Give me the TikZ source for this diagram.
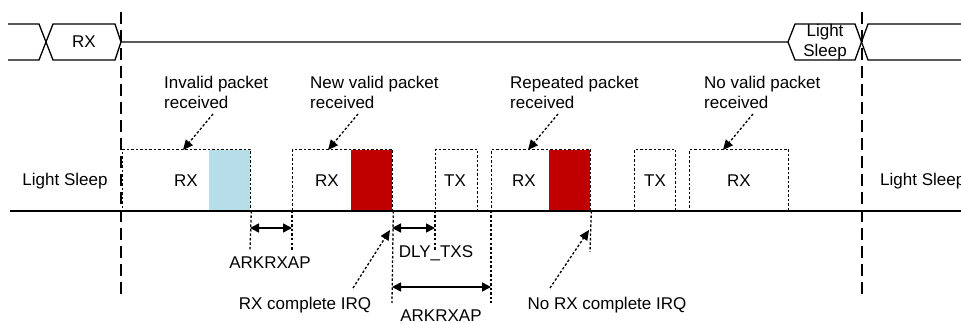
\documentclass[tikz,border=0pt]{standalone}
\usepackage{fontspec}
\setmainfont{Liberation Sans}
\usetikzlibrary{arrows.meta}
\definecolor{crcred}{HTML}{C00000}
\definecolor{crcblue}{HTML}{B7DDE8}
\begin{document}
\begin{tikzpicture}[x=1pt,y=-1pt,
  bus/.style={line width=1.3pt, line join=miter},
  baseline/.style={line width=1.7pt},
  dotline/.style={line width=1.3pt, dash pattern=on 2.5pt off 2pt},
  marker/.style={line width=1.4pt, dash pattern=on 12pt off 6pt},
  pktbox/.style={draw, dotline, inner sep=0pt, anchor=south west},
  pointer/.style={dotline, -{Triangle[length=10pt,width=9pt]}},
  span/.style={line width=1.6pt, {Triangle[length=9pt,width=9pt]}-{Triangle[length=9pt,width=9pt]}},
  txt/.style={font=\fontsize{17}{20}\selectfont, inner sep=0pt},
  lbl/.style={txt, align=left, anchor=north west}]
\useasboundingbox (0,0) rectangle (961,323);

% state bus at the top
\coordinate (l0) at (8,24);   \coordinate (l1) at (39,24);
\coordinate (l2) at (8,60);   \coordinate (l3) at (39,60);
\coordinate (h1) at (53,24);  \coordinate (h2) at (115,24);
\coordinate (h3) at (53,60);  \coordinate (h4) at (115,60);
\coordinate (h5) at (121,42);
\coordinate (s0) at (788,42);
\coordinate (s1) at (795,24); \coordinate (s2) at (855,24);
\coordinate (s3) at (795,60); \coordinate (s4) at (855,60);
\coordinate (r1) at (868,24); \coordinate (r2) at (961,24);
\coordinate (r3) at (868,60); \coordinate (r4) at (961,60);
\draw[bus] (l0) -- (l1) -- (h3) -- (h4) -- (h5) -- (h2) -- (h1) -- (l3) -- (l2);
\draw[bus] (h5) -- (s0) -- (s1) -- (s2) -- (r3) -- (r4);
\draw[bus] (s0) -- (s3) -- (s4) -- (r1) -- (r2);
\node[txt] (stRX) at (84,42) {RX};
\node[txt, align=center, anchor=north] (stLS) at (825,24) {Light\\Sleep};

% packet fills
\fill[crcblue] (209,150) rectangle (250,211);
\fill[crcred] (351,150) rectangle (392,211);
\fill[crcred] (549,150) rectangle (590,211);

% packet windows
\node[pktbox, minimum width=128pt, minimum height=61pt] (b1) at (122,211) {};
\node[pktbox, minimum width=100pt, minimum height=61pt] (b2) at (292,211) {};
\node[pktbox, minimum width=42pt,  minimum height=61pt] (t1) at (435,211) {};
\node[pktbox, minimum width=99pt,  minimum height=61pt] (b3) at (491,211) {};
\node[pktbox, minimum width=41pt,  minimum height=61pt] (t2) at (634,211) {};
\node[pktbox, minimum width=99pt,  minimum height=61pt] (b4) at (689,211) {};

% time axis
\coordinate (ax0) at (10,211); \coordinate (ax1) at (961,211);
\draw[baseline] (ax0) -- (ax1);

% sleep boundaries
\coordinate (m1a) at (121,12); \coordinate (m1b) at (121,295);
\coordinate (m2a) at (862,12); \coordinate (m2b) at (862,295);
\draw[marker] (m1a) -- (m1b);
\draw[marker] (m2a) -- (m2b);

% window labels
\node[txt] (lsL) at (65,181) {Light Sleep};
\node[txt, anchor=west] (lsR) at (880,181) {Light Sleep};
\node[txt] (x1) at (186,181) {RX};
\node[txt] (x2) at (327,181) {RX};
\node[txt] (x3) at (455,181) {TX};
\node[txt] (x4) at (524,181) {RX};
\node[txt] (x5) at (655,181) {TX};
\node[txt] (x6) at (739,181) {RX};

% packet annotations
\node[lbl] (n1) at (164,76) {Invalid packet\\received};
\node[lbl] (n2) at (310,76) {New valid packet\\received};
\node[lbl] (n3) at (510,76) {Repeated packet\\received};
\node[lbl] (n4) at (704,76) {No valid packet\\received};
\coordinate (n1s) at (213,114); \coordinate (n1e) at (183,150);
\coordinate (n2s) at (358,114); \coordinate (n2e) at (328,150);
\coordinate (n3s) at (558,114); \coordinate (n3e) at (528,150);
\coordinate (n4s) at (753,114); \coordinate (n4e) at (723,150);
\draw[pointer] (n1s) -- (n1e);
\draw[pointer] (n2s) -- (n2e);
\draw[pointer] (n3s) -- (n3e);
\draw[pointer] (n4s) -- (n4e);

% timing extensions below the axis
\coordinate (e1) at (250,250);
\coordinate (e2) at (292,250);
\coordinate (e3) at (392,303);
\coordinate (e4) at (435,250);
\coordinate (e5) at (491,303);
\coordinate (e6) at (590,252);
\draw[dotline] (b1.south east) -- (e1);
\draw[dotline] (b2.south west) -- (e2);
\draw[dotline] (b2.south east) -- (e3);
\draw[dotline] (t1.south west) -- (e4);
\draw[dotline] (b3.south west) -- (e5);
\draw[dotline] (b3.south east) -- (e6);

% intervals
\coordinate (i1a) at (250,228); \coordinate (i1b) at (292,228);
\coordinate (i2a) at (392,228); \coordinate (i2b) at (435,228);
\coordinate (i3a) at (392,287); \coordinate (i3b) at (491,287);
\draw[span] (i1a) -- (i1b);
\draw[span] (i2a) -- (i2b);
\draw[span] (i3a) -- (i3b);
\node[txt] (d1) at (270,263) {ARKRXAP};
\node[txt] (d2) at (436,253) {DLY\_TXS};
\node[txt] (d3) at (441,316) {ARKRXAP};

% interrupt annotations
\node[txt] (q1) at (305,305) {RX complete IRQ};
\node[txt] (q2) at (607,305) {No RX complete IRQ};
\coordinate (q1s) at (353,288); \coordinate (q1e) at (390,230);
\coordinate (q2s) at (550,288); \coordinate (q2e) at (589,230);
\draw[pointer] (q1s) -- (q1e);
\draw[pointer] (q2s) -- (q2e);
\end{tikzpicture}
\end{document}
